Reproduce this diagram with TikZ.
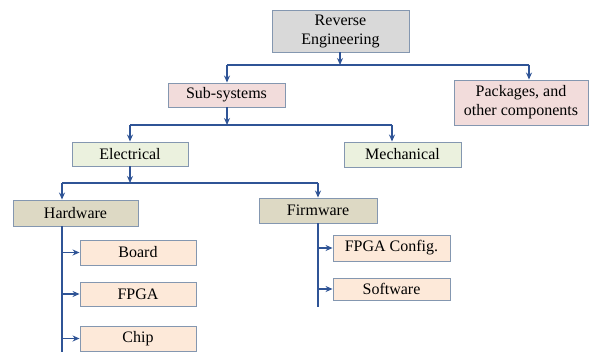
\documentclass[tikz,border=0pt]{standalone}
\usepackage{fontspec}
\setmainfont{Liberation Serif}
\usetikzlibrary{arrows.meta,calc}
\definecolor{wire}{HTML}{2F5496}
\definecolor{edge}{HTML}{8497B0}
\definecolor{cgray}{HTML}{D9D9D9}
\definecolor{cpink}{HTML}{F2DCDB}
\definecolor{cgreen}{HTML}{EBF1DE}
\definecolor{ctan}{HTML}{DDD9C4}
\definecolor{cpeach}{HTML}{FDE9D9}
\tikzset{
  box/.style={draw=edge,line width=0.9pt,minimum height=#1,inner sep=1pt,
    align=center,font=\fontsize{16}{19}\selectfont},
  box/.default=25pt,
  wireline/.style={draw=wire,line width=1.6pt},
  wirearrow/.style={wireline,-{Stealth[length=7pt,width=6pt]}},
}
\begin{document}
\begin{tikzpicture}[x=1pt,y=-1pt]
\useasboundingbox (0,0) rectangle (589,352);
% boxes
\node[box=42pt,fill=cgray,minimum width=137pt] (re) at (340.5,31) {Reverse\\Engineering};
\node[box=45pt,fill=cpink,minimum width=134pt] (pkg) at (521,102.5) {Packages, and\\other components};
\node[box=24pt,fill=cpink,minimum width=117pt] (sub) at (226.5,95) {Sub-systems};
\node[box,fill=cgreen,minimum width=117pt] (mech) at (402.5,154.5) {Mechanical};
\node[box=24pt,fill=cgreen,minimum width=116pt] (elec) at (130,154) {Electrical};
\node[box=26pt,fill=ctan,minimum width=125pt] (hw) at (75.5,213) {Hardware};
\node[box,fill=ctan,minimum width=118pt] (fw) at (318,210.5) {Firmware};
\node[box,fill=cpeach,minimum width=116pt] (board) at (138,252.5) {Board};
\node[box=24pt,fill=cpeach,minimum width=116pt] (fpga) at (138,294) {FPGA};
\node[box,fill=cpeach,minimum width=116pt] (chip) at (138,338.5) {Chip};
\node[box=26pt,fill=cpeach,minimum width=117pt] (fcfg) at (391.5,248) {FPGA Config.};
\node[box=22pt,fill=cpeach,minimum width=117pt] (sw) at (391.5,289) {Software};
% junction points
\coordinate (j1) at (340,65);
\coordinate (j1l) at (227,65);
\coordinate (j1r) at (529,65);
\coordinate (j2) at (227,125);
\coordinate (j2l) at (130,125);
\coordinate (j2r) at (392,125);
\coordinate (j3) at (130,183);
\coordinate (j3l) at (62,183);
\coordinate (j3r) at (318,183);
\coordinate (hwend) at (62,352);
\coordinate (fwend) at (318,307);
% first level
\draw[wirearrow] (re.south -| j1) -- (j1);
\draw[wireline] (j1l) -- (j1r);
\draw[wirearrow] (j1l) -- (sub.north -| j1l);
\draw[wirearrow] (j1r) -- (pkg.north -| j1r);
% second level
\draw[wirearrow] (sub.south -| j2) -- (j2);
\draw[wireline] (j2l) -- (j2r);
\draw[wirearrow] (j2l) -- (elec.north -| j2l);
\draw[wirearrow] (j2r) -- (mech.north -| j2r);
% third level
\draw[wirearrow] (elec.south -| j3) -- (j3);
\draw[wireline] (j3l) -- (j3r);
\draw[wirearrow] (j3l) -- (hw.north -| j3l);
\draw[wirearrow] (j3r) -- (fw.north -| j3r);
% hardware branch
\draw[wireline] (hw.south -| hwend) -- (hwend);
\draw[wirearrow] (board.west -| hwend) -- (board.west);
\draw[wirearrow] (fpga.west -| hwend) -- (fpga.west);
\draw[wirearrow] (chip.west -| hwend) -- (chip.west);
% firmware branch
\draw[wireline] (fw.south -| fwend) -- (fwend);
\draw[wirearrow] (fcfg.west -| fwend) -- (fcfg.west);
\draw[wirearrow] (sw.west -| fwend) -- (sw.west);
\end{tikzpicture}
\end{document}
